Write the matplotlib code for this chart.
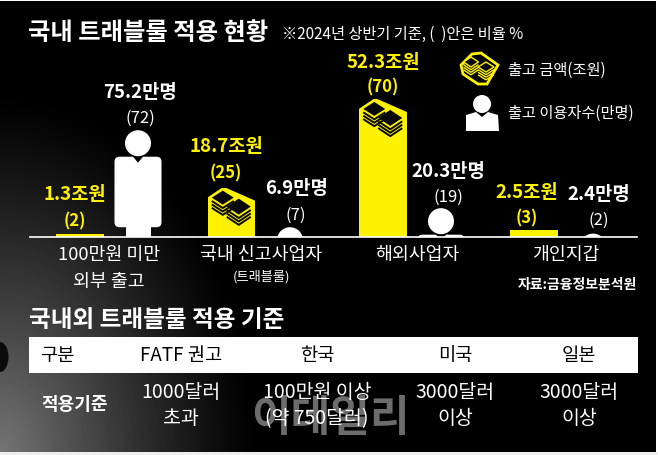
import numpy as np
import matplotlib
matplotlib.use('Agg')
import matplotlib.pyplot as plt
from matplotlib.patches import Circle, Ellipse, PathPatch, Polygon, Rectangle
from matplotlib.path import Path
from matplotlib.transforms import Affine2D

plt.rcParams['font.family'] = ['Noto Sans CJK KR', 'DejaVu Sans']

W, H = 658, 456
BASE_Y = 238
YELLOW = '#fff200'

group_labels = ['100만원 미만\n외부 출고', '국내 신고사업자', '해외사업자', '개인지갑']
money_values = [1.3, 18.7, 52.3, 2.5]
money_pct = [2, 25, 70, 3]
people_values = [75.2, 6.9, 20.3, 2.4]
people_pct = [72, 7, 19, 2]

money_x = [80, 231.5, 383, 534]
people_x = [138, 290, 441, 593]

table_header = ['구분', 'FATF 권고', '한국', '미국', '일본']
table_row = ['적용기준', '1000달러\n초과', '100만원 이상\n(약 750달러)', '3000달러\n이상', '3000달러\n이상']
table_x = [57, 181, 317, 455, 579]

PX_PER_JO = 2.64
PX_PER_MAN = 1.42


def stack(ax, cx, cy, hw, hh, n, gap=3.4, lw=1.4, dark='#0a0a0a'):
    # one pile of notes: dark diamond with stripes under it
    pts = [(cx - hw, cy), (cx, cy - hh), (cx + hw, cy), (cx, cy + hh)]
    ax.add_patch(Polygon(pts, closed=True, fc=dark, ec='none', zorder=6))
    for i in range(1, n + 1):
        dy = i * gap
        ax.plot([cx - hw, cx, cx + hw], [cy + dy, cy + hh + dy, cy + dy], color=dark, lw=lw, zorder=6,
                solid_capstyle='butt')


def money_icon(ax, x0, y0, w):
    # notes on top of the bar, px from the peak of the roof
    mask_l = [(x0 - 0.5, y0 - 1), (x0 + 16, y0 - 1), (x0 - 0.5, y0 + 10)]
    mask_r = [(x0 + 16, y0 - 1), (x0 + w + 0.5, y0 - 1), (x0 + w + 0.5, y0 + 13)]
    ax.add_patch(Polygon(mask_l, closed=True, fc='black', ec='none', zorder=4))
    ax.add_patch(Polygon(mask_r, closed=True, fc='black', ec='none', zorder=4))
    stack(ax, x0 + 15, y0 + 10, 11, 7, 3)
    stack(ax, x0 + 31, y0 + 19, 12, 8, 3)


def person_path(tall):
    # body below the head, coordinates in px from the top of the head, y down
    hw = 23.5
    r = 5
    top = 26.5
    low = 97 if tall else 60
    verts = [(-hw + r, top), (-5, top), (0, top + 6), (5, top), (hw - r, top), (hw, top), (hw, top + r),
             (hw, low - r), (hw, low), (hw - r, low), (-hw + r, low), (-hw, low), (-hw, low - r),
             (-hw, top + r), (-hw, top), (-hw + r, top), (-hw + r, top)]
    codes = [Path.MOVETO, Path.LINETO, Path.LINETO, Path.LINETO, Path.LINETO, Path.CURVE3, Path.CURVE3,
             Path.LINETO, Path.CURVE3, Path.CURVE3, Path.LINETO, Path.CURVE3, Path.CURVE3,
             Path.LINETO, Path.CURVE3, Path.CURVE3, Path.CLOSEPOLY]
    return Path(verts, codes)


def draw_person(ax, x, value):
    # the figure keeps its size and sinks below the baseline, the axes clip it
    top = value * PX_PER_MAN
    y = BASE_Y - top
    r = 13
    ax.add_patch(Circle((x, y + r), r, fc='white', ec='none', zorder=4))
    tall = value > 50
    body = PathPatch(person_path(tall), fc='white', ec='none', zorder=4,
                     transform=Affine2D().translate(x, y) + ax.transData)
    ax.add_patch(body)
    if tall:
        ax.add_patch(Rectangle((x - 12.5, y + 90), 25, 30, fc='white', ec='none', zorder=4))


def legend_stack(ax, cx, cy, hw, hh):
    for i in (3, 2, 1):
        dy = i * 2.6
        ax.plot([cx - hw, cx, cx + hw], [cy + dy, cy + hh + dy, cy + dy], color=YELLOW, lw=1.0, zorder=6,
                solid_capstyle='butt')
    pts = [(cx - hw, cy), (cx, cy - hh), (cx + hw, cy), (cx, cy + hh)]
    ax.add_patch(Polygon(pts, closed=True, fc='#0a0a0a', ec=YELLOW, lw=1.0, zorder=6))


fig = plt.figure(figsize=(W / 100, H / 100), dpi=100, facecolor='white')

# background with the grey glow in the lower left corner
bg = fig.add_axes([0, 0, 1, 1], zorder=0)
yy, xx = np.mgrid[0:H, 0:W]
d = np.sqrt((xx / 255.0) ** 2 + ((H - yy) / 360.0) ** 2)
glow = 0.46 * np.clip(1 - d, 0, 1) ** 1.15
bg.imshow(glow, cmap='gray', vmin=0, vmax=1, extent=[0, W, H, 0], aspect='auto', interpolation='bilinear')
bg.add_patch(Rectangle((655.5, 0), 3, H, fc='white', ec='none'))
bg.add_patch(Rectangle((0, 0), W, 2, fc='white', ec='none'))
bg.add_patch(Rectangle((0, 453), W, 3, fc='#eeeeee', ec='none'))
bg.add_patch(Ellipse((0, 358), 17, 30, fc='#0a0a0a', ec='none'))
bg.set_xlim(0, W)
bg.set_ylim(H, 0)
bg.axis('off')

# chart area on the money scale, it ends at the baseline
ax = fig.add_axes([0, 1 - BASE_Y / H, 1, BASE_Y / H], zorder=2)
ax.set_xlim(0, W)
ax.set_ylim(0, BASE_Y / PX_PER_JO)
ax.axis('off')
ax.patch.set_alpha(0)
ax.bar(money_x, money_values, width=47.5, color=YELLOW, linewidth=0, zorder=3)

# people, clipped at the baseline
pa = fig.add_axes([0, 1 - BASE_Y / H, 1, BASE_Y / H], zorder=2.5)
pa.set_xlim(0, W)
pa.set_ylim(BASE_Y, 0)
pa.axis('off')
pa.patch.set_alpha(0)
for x, v in zip(people_x, people_values):
    draw_person(pa, x, v)

# pixel overlay for pictograms and text
ov = fig.add_axes([0, 0, 1, 1], zorder=3)
ov.set_xlim(0, W)
ov.set_ylim(H, 0)
ov.axis('off')
ov.patch.set_alpha(0)

for x, v in zip(money_x, money_values):
    if v > 10:
        money_icon(ov, x - 23.75, BASE_Y - v * PX_PER_JO, 47.5)

ov.plot([30, 637], [BASE_Y, BASE_Y], color='white', lw=1.2, zorder=7)

# value labels
money_label_y = [(195, 221), (147, 173), (62, 87), (193, 218)]
people_label_y = [(93, 118), (189, 215), (172, 197), (195, 220)]
for x, v, p, (y1, y2) in zip([75, 226, 383, 527], money_values, money_pct, money_label_y):
    ov.text(x, y1, f'{v}조원', color=YELLOW, fontsize=13.5, fontweight='bold', ha='center', va='center')
    ov.text(x, y2, f'({p})', color=YELLOW, fontsize=12, fontweight='bold', ha='center', va='center')
for x, v, p, (y1, y2) in zip([140, 296, 448, 599], people_values, people_pct, people_label_y):
    ov.text(x, y1, f'{v}만명', color='white', fontsize=13.5, fontweight='bold', ha='center', va='center')
    ov.text(x, y2, f'({p})', color='white', fontsize=12, ha='center', va='center')

# group labels
LABEL_SIZE = 13.2
ov.text(109, 255, '100만원 미만', color='white', fontsize=LABEL_SIZE, ha='center', va='center')
ov.text(109, 282, '외부 출고', color='white', fontsize=LABEL_SIZE, ha='center', va='center')
ov.text(261, 255, group_labels[1], color='white', fontsize=LABEL_SIZE, ha='center', va='center')
ov.text(261, 277, '(트래블룰)', color='white', fontsize=9.5, ha='center', va='center')
ov.text(417, 255, group_labels[2], color='white', fontsize=LABEL_SIZE, ha='center', va='center')
ov.text(566, 255, group_labels[3], color='white', fontsize=LABEL_SIZE, ha='center', va='center')
ov.text(637, 285, '자료:금융정보분석원', color='white', fontsize=10, fontweight='bold', ha='right', va='center')

# titles
ov.text(28, 33, '국내 트래블룰 적용 현황', color='white', fontsize=17.5, fontweight='bold', ha='left', va='center')
ov.text(282, 34, '※2024년 상반기 기준, (  )안은 비율 %', color='white', fontsize=11, ha='left', va='center')
ov.text(29, 320, '국내외 트래블룰 적용 기준', color='white', fontsize=17, fontweight='bold', ha='left', va='center')

# legend
hex_pts = [(461, 66), (472, 55), (481, 54), (498, 66), (487, 85), (478, 85), (463, 75)]
ov.add_patch(Polygon(hex_pts, closed=True, fc='black', ec=YELLOW, lw=2, zorder=5))
legend_stack(ov, 471, 63, 7.5, 5)
legend_stack(ov, 486, 68, 8, 5)
ov.text(508, 70, '출고 금액(조원)', color='white', fontsize=11, ha='left', va='center')
ov.add_patch(Circle((482, 105), 9, fc='white', ec='none', zorder=5))
ov.add_patch(Polygon([(466, 116), (476, 113), (482, 118), (488, 113), (498, 116), (499, 132), (466, 132)],
                     closed=True, fc='white', ec='none', zorder=5))
ov.text(508, 113, '출고 이용자수(만명)', color='white', fontsize=11, ha='left', va='center')

# table
ov.add_patch(Rectangle((29, 338), 609, 36, fc='white', ec='none', zorder=3))
for x, t in zip(table_x, table_header):
    ov.text(x, 356, t, color='black', fontsize=13.5, ha='center', va='center', zorder=4)
ov.text(330, 418, '이데일리', color='#6c6c6c', fontsize=31, fontweight='bold', ha='center', va='center', zorder=2)
ov.text(75, 405, table_row[0], color='white', fontsize=13, fontweight='bold', ha='center', va='center', zorder=4)
for x, t in zip(table_x[1:], table_row[1:]):
    a, b = t.split('\n')
    ov.text(x, 393, a, color='white', fontsize=14, ha='center', va='center', zorder=4)
    ov.text(x, 419, b, color='white', fontsize=14, ha='center', va='center', zorder=4)

fig.savefig('out.png', dpi=100, facecolor='white')
